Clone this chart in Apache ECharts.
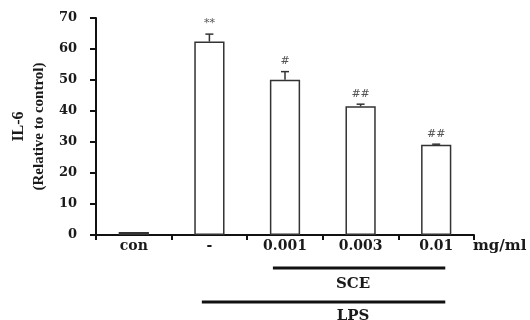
<!DOCTYPE html>
<html><head><meta charset="utf-8">
<script src="https://cdn.jsdelivr.net/npm/echarts@6/dist/echarts.min.js"></script>
<style>html,body{margin:0;padding:0;background:#fff}#c{width:530px;height:320px}</style>
</head><body><div id="c"></div>
<script>
var categories = ['con', '-', '0.001', '0.003', '0.01'];
var values = [1.0, 62.4, 50.1, 41.5, 29.1];
var errors = [0, 2.4, 2.6, 0.7, 0.2];
var marks = ['', '**', '#', '##', '##'];
var yTicks = [0, 10, 20, 30, 40, 50, 60, 70];
var unitLabel = 'mg/ml';
var groups = [
  { name: 'SCE', from: 2, to: 4, level: 0 },
  { name: 'LPS', from: 1, to: 4, level: 1 }
];
var SERIF = '"Liberation Serif", "Times New Roman", serif';
var WIDE = '"DejaVu Serif", serif';

var chart = echarts.init(document.getElementById('c'), null, { renderer: 'canvas' });

var errData = values.map(function (v, i) { return [i, v, v + errors[i], marks[i]]; });

chart.setOption({
  animation: false,
  backgroundColor: '#fff',
  grid: { left: 96, right: 56, top: 18, bottom: 85, containLabel: false },
  xAxis: {
    type: 'category',
    data: categories,
    axisLine: { lineStyle: { color: '#111', width: 2 } },
    axisTick: { show: true, length: 5, lineStyle: { color: '#111', width: 2 } },
    axisLabel: { color: '#1a1a1a', fontFamily: WIDE, fontWeight: 'bold', fontSize: 14, margin: 4 },
    splitLine: { show: false }
  },
  yAxis: {
    type: 'value',
    min: yTicks[0], max: yTicks[yTicks.length - 1], interval: 10,
    axisLine: { show: true, lineStyle: { color: '#111', width: 2 } },
    axisTick: { show: true, length: 6, lineStyle: { color: '#111', width: 2 } },
    axisLabel: { color: '#1a1a1a', fontFamily: WIDE, fontWeight: 'bold', fontSize: 13, margin: 19 },
    splitLine: { show: false },
    name: '{a|IL-6}\n{b|(Relative to control)}',
    nameLocation: 'middle',
    nameRotate: 90,
    nameGap: 46,
    nameTextStyle: {
      color: '#1a1a1a', fontFamily: SERIF, fontWeight: 'bold',
      rich: {
        a: { fontSize: 16, fontFamily: SERIF, fontWeight: 'bold', color: '#1a1a1a', lineHeight: 21 },
        b: { fontSize: 15, fontFamily: SERIF, fontWeight: 'bold', color: '#1a1a1a', lineHeight: 21 }
      }
    }
  },
  series: [
    {
      type: 'bar',
      data: values,
      barWidth: '40%',
      itemStyle: { color: '#fff', borderColor: '#333', borderWidth: 1.5 },
      z: 2
    },
    {
      type: 'custom',
      data: errData,
      z: 3,
      renderItem: function (params, api) {
        var x = api.value(0);
        var top = api.coord([x, api.value(1)]);
        var hi = api.coord([x, api.value(2)]);
        var lab = api.value(3);
        var children = [];
        if (hi[1] < top[1] - 0.5) {
          children.push({ type: 'line', shape: { x1: top[0], y1: top[1], x2: hi[0], y2: hi[1] }, style: { stroke: '#333', lineWidth: 1.5 } });
          children.push({ type: 'line', shape: { x1: hi[0] - 4, y1: hi[1], x2: hi[0] + 4, y2: hi[1] }, style: { stroke: '#333', lineWidth: 1.5 } });
        }
        if (lab) {
          children.push({ type: 'text', style: { text: lab, x: hi[0], y: hi[1] - 5, align: 'center', verticalAlign: 'bottom', fill: '#555', font: '11px ' + WIDE } });
        }
        return { type: 'group', children: children };
      }
    },
    {
      type: 'custom',
      data: groups.map(function (g) { return [g.from, g.to, g.level, g.name]; }),
      clip: false,
      z: 3,
      renderItem: function (params, api) {
        var a = api.coord([api.value(0), 0]);
        var b = api.coord([api.value(1), 0]);
        var band = api.size([1, 0])[0];
        var lvl = api.value(2);
        var y = a[1] + 33 + lvl * 34;
        var x1 = lvl === 0 ? a[0] - band * 0.16 : a[0] - band * 0.1;
        var x2 = b[0] + band * 0.12;
        var mid = api.coord([3, 0])[0] - band * 0.1;
        return {
          type: 'group',
          children: [
            { type: 'line', shape: { x1: x1, y1: y, x2: x2, y2: y }, style: { stroke: '#111', lineWidth: 2.8 } },
            { type: 'text', style: { text: api.value(3), x: mid, y: y + (lvl === 0 ? 9 : 7), align: 'center', verticalAlign: 'top', fill: '#1a1a1a', font: 'bold 15px ' + WIDE } }
          ]
        };
      }
    }
  ]
});

var end = chart.convertToPixel({ gridIndex: 0 }, [categories.length - 1, 0]);
var bw = chart.getModel().getComponent('xAxis', 0).axis.getBandWidth();
chart.setOption({
  graphic: [{
    type: 'text',
    left: end[0] + bw / 2 - 1,
    top: end[1] + 4,
    style: { text: unitLabel, fill: '#1a1a1a', font: 'bold 15px ' + WIDE }
  }]
});
</script></body></html>
